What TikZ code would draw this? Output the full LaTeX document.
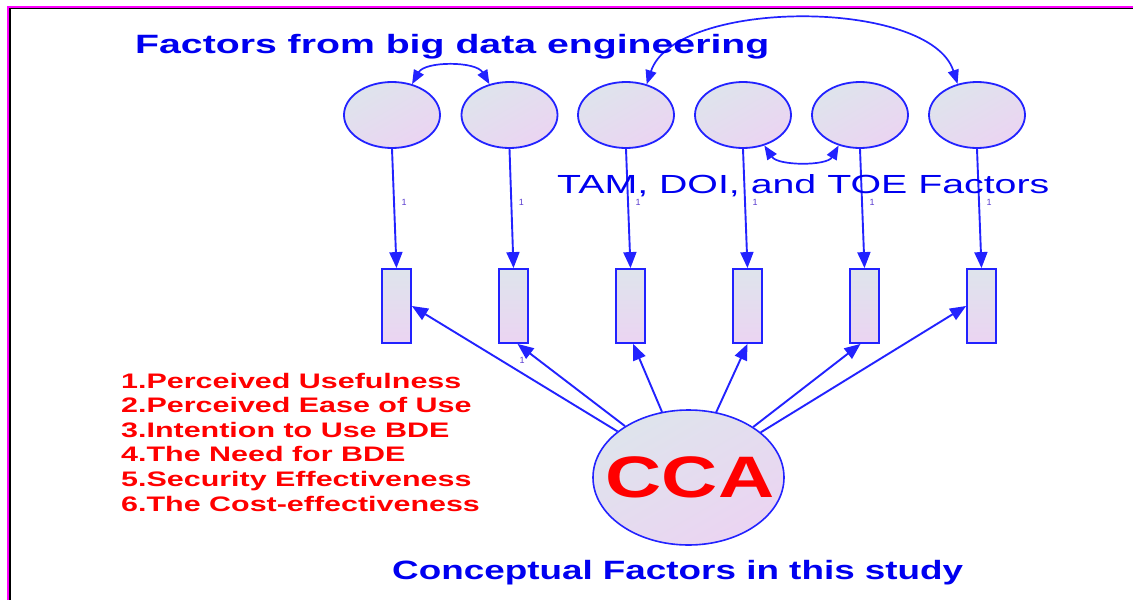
\documentclass[tikz,border=0pt]{standalone}
\usepackage{graphicx}
\usepackage{fontspec}
\setmainfont{Liberation Sans}
\usetikzlibrary{shapes.geometric,arrows.meta}
\definecolor{lblue}{HTML}{2222FF}
\definecolor{tblue}{HTML}{0000F0}
\definecolor{fillA}{HTML}{DEE4EC}
\definecolor{fillB}{HTML}{EBD4F2}
\definecolor{mag}{HTML}{FF00FF}
\definecolor{onec}{HTML}{5A3CD0}
\newcommand\wide[2]{\scalebox{#1}[1]{#2}}
\begin{document}
\begin{tikzpicture}[x=1pt,y=-1pt,
 lat/.style={ellipse,draw=lblue,line width=1.8pt,top color=fillA,bottom color=fillB,shading angle=30,minimum width=96pt,minimum height=66pt,inner sep=0pt},
 obs/.style={rectangle,draw=lblue,line width=1.8pt,top color=fillA,bottom color=fillB,minimum width=29pt,minimum height=74pt,inner sep=0pt},
 arr/.style={draw=lblue,line width=1.9pt,-{Triangle[length=16pt,width=13pt]}},
 darr/.style={draw=lblue,line width=1.7pt,{Triangle[length=14pt,width=11pt]}-{Triangle[length=14pt,width=11pt]}},
 one/.style={text=onec,font=\fontsize{9}{10}\selectfont,inner sep=0pt},
 txt/.style={inner sep=0pt,anchor=base west}
]
\useasboundingbox (0,0) rectangle (1133,600);
\fill[white] (0,0) rectangle (1133,600);
% border
\fill[mag] (7.3,5.7) rectangle (1133,7.7);
\fill[mag] (7.3,5.7) rectangle (9.3,600);
\fill[black] (9.3,7.7) rectangle (1133,9.3);
\fill[black] (9.3,7.7) rectangle (10.7,600);
% latent ellipses
\foreach [count=\i] \x in {392,509.5,626,743,860,977}
  \node[lat] (e\i) at (\x,115) {};
% observed rectangles
\foreach [count=\i] \x in {396.5,513.5,630.5,747.5,864.5,981.5}
  \node[obs] (r\i) at (\x,306) {};
% loadings
\foreach \i in {1,...,6}
  \draw[arr] (e\i.south) -- node[one,pos=0.45,xshift=10pt] (n\i) {1} (r\i.north);
% covariances
\draw[darr] (e1.57) .. controls (425,61) and (476,61) .. (e2.123);
\draw[darr] (e3.56) .. controls (675,-2) and (930,-2) .. (e6.122);
\draw[darr] (e4.-55) .. controls (778,166) and (827,166) .. (e5.235);
% CCA
\node[ellipse,draw=lblue,line width=1.6pt,top color=fillA,bottom color=fillB,shading angle=30,minimum width=191pt,minimum height=135pt,inner sep=0pt] (cca) at (688.5,477.5) {};
\node[inner sep=0pt,text=red] (ccat) at (690,477) {\wide{1.33}{\fontsize{58.5}{60}\selectfont\bfseries CCA}};
\draw[arr] (cca.147.5) -- (r1.east);
\draw[arr] (cca.141.3) -- (r2.-84);
\draw[arr] (cca.112) -- (r3.-86);
\draw[arr] (cca.67.5) -- (r4.-90);
\draw[arr] (cca.38.7) -- (r5.-96);
\draw[arr] (cca.32.5) -- (r6.west);
\node[one] (n7) at (522,360) {1};
% texts
\node[txt,text=tblue] (title) at (135,53) {\wide{1.48}{\fontsize{26.5}{30}\selectfont\bfseries Factors from big data engineering}};
\node[txt,text=tblue] (tam) at (557,193) {\wide{1.5}{\fontsize{26.2}{30}\selectfont TAM, DOI, and TOE Factors}};
\node[txt,text=tblue] (concept) at (392,579) {\wide{1.39}{\fontsize{26.5}{30}\selectfont\bfseries Conceptual Factors in this study}};
\foreach [count=\i] \t in {1.Perceived Usefulness,2.Perceived Ease of Use,3.Intention to Use BDE,4.The Need for BDE,5.Security Effectiveness,6.The Cost-effectiveness}
  \node[txt,text=red] (l\i) at (121,{388+(\i-1)*24.6}) {\wide{1.45}{\fontsize{21}{24}\selectfont\bfseries \t}};
\end{tikzpicture}
\end{document}
